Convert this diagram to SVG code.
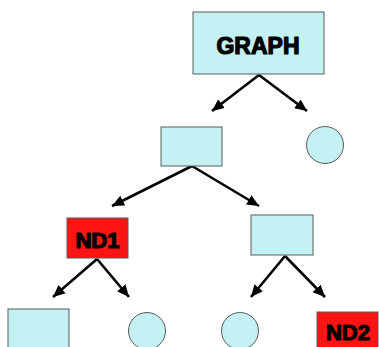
<svg xmlns="http://www.w3.org/2000/svg" width="379" height="347" viewBox="0 0 379 347">
<style>
.box{fill:#c4f1f3;stroke:#5a5a5a;stroke-width:1}
.red{fill:#ff1414;stroke:#5a5a5a;stroke-width:1}
.lbl{font-family:"Liberation Sans",Arial,sans-serif;font-weight:bold;fill:#000;stroke:#000;stroke-width:1.2;stroke-linejoin:round;text-anchor:middle}
.edge{stroke:#000;stroke-width:2.6;fill:none;marker-end:url(#ah)}
</style>
<defs>
<marker id="ah" markerUnits="userSpaceOnUse" markerWidth="14" markerHeight="14" viewBox="0 0 14 14" refX="12" refY="7" orient="auto">
<path d="M0,1.5 L12,7 L0,12.5 Z" fill="#000"/>
</marker>
</defs>
<g id="connectors">
<line class="edge" x1="259" y1="75" x2="212" y2="111"/>
<line class="edge" x1="259" y1="75" x2="307" y2="111"/>
<line class="edge" x1="192" y1="166" x2="112" y2="206"/>
<line class="edge" x1="192" y1="166" x2="259" y2="206"/>
<line class="edge" x1="97" y1="259" x2="53" y2="297"/>
<line class="edge" x1="97" y1="259" x2="129" y2="297"/>
<line class="edge" x1="285" y1="256" x2="251" y2="297"/>
<line class="edge" x1="285" y1="256" x2="325" y2="297"/>
</g>
<g id="graph"><rect class="box" x="193" y="12" width="131" height="62"/><text class="lbl" x="258" y="53.5" font-size="23">GRAPH</text></g>
<g id="mid"><rect class="box" x="161" y="127" width="61" height="39"/></g>
<g id="c1"><circle class="box" cx="325" cy="145" r="18.5"/></g>
<g id="nd1"><rect class="red" x="67" y="218" width="61" height="40"/><text class="lbl" x="97.5" y="248" font-size="22">ND1</text></g>
<g id="right"><rect class="box" x="251" y="215" width="62" height="40"/></g>
<g id="bl"><rect class="box" x="8" y="309" width="61" height="45"/></g>
<g id="c2"><circle class="box" cx="147" cy="331" r="18.5"/></g>
<g id="c3"><circle class="box" cx="240" cy="331" r="18.5"/></g>
<g id="nd2"><rect class="red" x="317" y="312" width="61" height="45"/><text class="lbl" x="348" y="340" font-size="22">ND2</text></g>
</svg>
